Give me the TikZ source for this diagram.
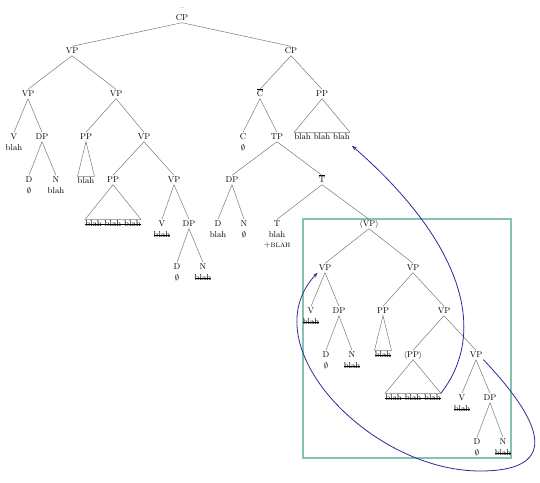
\documentclass[tikz,border=0pt]{standalone}
\usepackage{amssymb}
\usetikzlibrary{positioning, arrows.meta}
\definecolor{treeGrey}{HTML}{7A7A7A}
\definecolor{boxTeal}{HTML}{86C2B0}
\definecolor{moveBlue}{HTML}{2B2B96}
\newcommand{\strk}[1]{\setbox0\hbox{#1}\rlap{\rule[0.6ex]{\wd0}{0.4pt}}\box0}
\newcommand{\nul}{$\emptyset$}
\newcommand{\bbar}[1]{\setbox0\hbox{#1}\rlap{\hspace{0.5pt}\raisebox{\dimexpr\ht0+0.9pt\relax}{\rule{\dimexpr\wd0-1pt\relax}{0.4pt}}}\box0}

\begin{document}
\begin{tikzpicture}[x=1pt, y=-1pt, font=\fontsize{8.5}{10}\selectfont,
    cat/.style={inner sep=1pt, text height=6pt, text depth=1pt},
    lex/.style={inner sep=1pt, text height=6pt, text depth=1pt},
    tri/.style={inner xsep=0pt, inner ysep=1pt, text height=6pt, text depth=1pt},
    edge/.style={treeGrey, line width=0.5pt},
    move/.style={moveBlue, line width=0.8pt, -{Stealth[length=5pt, width=3.5pt]}}]
  \useasboundingbox (0,0) rectangle (540,482);
  % frame round the lower VP
  \draw[boxTeal, line width=1.2pt] (303,219) rectangle (511,458);

  % left half
  \node[inner sep=0pt, font=\scriptsize, text=treeGrey] (dots) at (182,8) {\dots};
  \node[cat] (cp) at (182,18) {CP};
  \node[cat] (vp) at (72,51) {VP};
  \node[cat] (vpa) at (28,94) {VP};
  \node[cat] (vpb) at (116,94) {VP};
  \node[cat] (vA) at (14,137) {V};
  \node[lex, below=2pt of vA] (vAl) {blah};
  \node[cat] (dpA) at (42,137) {DP};
  \node[cat] (dA) at (29,180) {D};
  \node[lex, below=2pt of dA] (dAl) {\nul};
  \node[cat] (nA) at (56,180) {N};
  \node[lex, below=2pt of nA] (nAl) {blah};
  \node[cat] (ppA) at (86,137) {PP};
  \node[tri] (tA) at (86,181) {blah};
  \node[cat] (vpc) at (144,137) {VP};
  \node[cat] (ppB) at (113,180) {PP};
  \node[tri] (tB) at (113,224) {\strk{blah blah blah}};
  \node[cat] (vpd) at (174,180) {VP};
  \node[cat] (vB) at (162,224) {V};
  \node[lex, below=2pt of vB] (vBl) {\strk{blah}};
  \node[cat] (dpB) at (189,224) {DP};
  \node[cat] (dB) at (177,267) {D};
  \node[lex, below=2pt of dB] (dBl) {\nul};
  \node[cat] (nB) at (203,267) {N};
  \node[lex, below=2pt of nB] (nBl) {\strk{blah}};

  % right half
  \node[cat] (cpr) at (291,51) {CP};
  \node[cat] (cbar) at (260,94) {\bbar{C}};
  \node[cat] (ppC) at (322,94) {PP};
  \node[tri] (tC) at (322,137) {blah blah blah};
  \node[cat] (cC) at (243,137) {C};
  \node[lex, below=2pt of cC] (cCl) {\nul};
  \node[cat] (tp) at (277,137) {TP};
  \node[cat] (dpC) at (232,180) {DP};
  \node[cat] (dC) at (218,224) {D};
  \node[lex, below=2pt of dC] (dCl) {blah};
  \node[cat] (nC) at (244,224) {N};
  \node[lex, below=2pt of nC] (nCl) {\nul};
  \node[cat] (tbar) at (322,180) {\bbar{T}};
  \node[cat] (tT) at (277,224) {T};
  \node[lex, below=2pt of tT] (tTl) {blah};
  \node[lex, below=0pt of tTl] (tTf) {\textsc{+blah}};
  \node[cat] (vpe) at (369,224) {$\langle$VP$\rangle$};
  \node[cat] (vpf) at (325,268) {VP};
  \node[cat] (vpg) at (413,268) {VP};
  \node[cat] (vC) at (311,311) {V};
  \node[lex, below=2pt of vC] (vCl) {\strk{blah}};
  \node[cat] (dpD) at (339,311) {DP};
  \node[cat] (dD) at (326,355) {D};
  \node[lex, below=2pt of dD] (dDl) {\nul};
  \node[cat] (nD) at (352,355) {N};
  \node[lex, below=2pt of nD] (nDl) {\strk{blah}};
  \node[cat] (ppD) at (383,311) {PP};
  \node[tri] (tD) at (383,355) {\strk{blah}};
  \node[cat] (vph) at (444,311) {VP};
  \node[cat] (ppE) at (413,355) {$\langle$PP$\rangle$};
  \node[tri] (tE) at (413,398) {\strk{blah blah blah}};
  \node[cat] (vpi) at (476,355) {VP};
  \node[cat] (vD) at (462,398) {V};
  \node[lex, below=2pt of vD] (vDl) {\strk{blah}};
  \node[cat] (dpE) at (490,398) {DP};
  \node[cat] (dE) at (477,442) {D};
  \node[lex, below=2pt of dE] (dEl) {\nul};
  \node[cat] (nE) at (503,442) {N};
  \node[lex, below=2pt of nE] (nEl) {\strk{blah}};

  \foreach \a/\b in {cp/vp, cp/cpr, vp/vpa, vp/vpb, vpa/vA, vpa/dpA, dpA/dA, dpA/nA,
      vpb/ppA, vpb/vpc, vpc/ppB, vpc/vpd, vpd/vB, vpd/dpB, dpB/dB, dpB/nB,
      cpr/cbar, cpr/ppC, cbar/cC, cbar/tp, tp/dpC, tp/tbar, dpC/dC, dpC/nC,
      tbar/tT, tbar/vpe, vpe/vpf, vpe/vpg, vpf/vC, vpf/dpD, dpD/dD, dpD/nD,
      vpg/ppD, vpg/vph, vph/ppE, vph/vpi, vpi/vD, vpi/dpE, dpE/dE, dpE/nE}
    \draw[edge] (\a.south) -- (\b.north);
  \foreach \a/\b in {ppA/tA, ppB/tB, ppC/tC, ppD/tD, ppE/tE}
    \draw[edge] (\a.south) -- (\b.north west) -- (\b.north east) -- cycle;

  % movement arrows
  \draw[move] (tE.north east) .. controls (490,330) and (460,240) .. ([xshift=2pt, yshift=-4pt]tC.south east);
  \draw[move] (vpi.south east) .. controls (550,430) and (555,471) .. (480,471)
    .. controls (370,471) and (250,345) .. (vpf.south west);
\end{tikzpicture}
\end{document}
